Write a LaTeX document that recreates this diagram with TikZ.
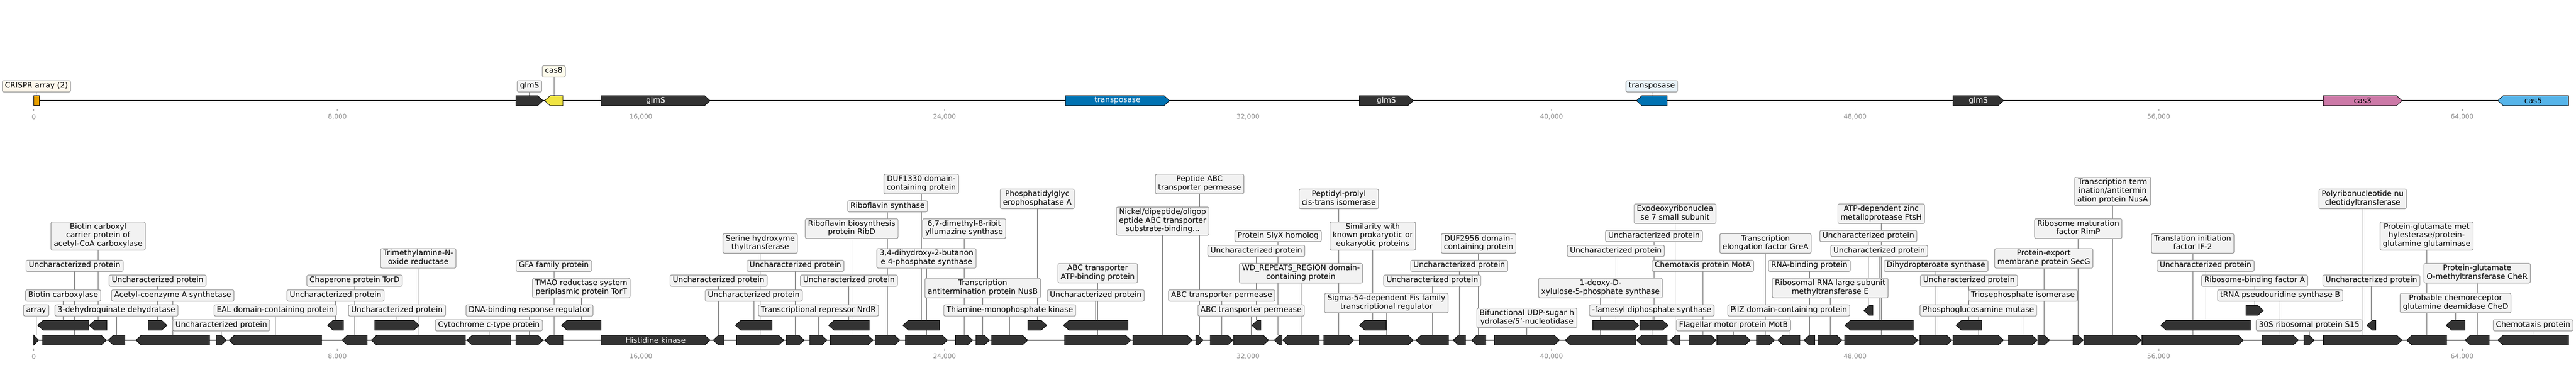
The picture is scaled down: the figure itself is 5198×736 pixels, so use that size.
\documentclass[tikz,border=0pt]{standalone}
\usepackage{fontspec}
\setmainfont{DejaVu Sans}
\usetikzlibrary{backgrounds}

\definecolor{genegray}{HTML}{333333}
\definecolor{boxgray}{HTML}{F2F2F2}
\definecolor{crisprorange}{HTML}{E69F00}
\definecolor{casyellow}{HTML}{F0E442}
\definecolor{tnpblue}{HTML}{0072B2}
\definecolor{caspink}{HTML}{CC79A7}
\definecolor{casblue}{HTML}{56B4E9}
\definecolor{ticktext}{HTML}{8A8A8A}

% start, end, y centre, direction (1 / -1), fill
\newcommand{\drawgene}[5]{%
  \pgfmathsetmacro{\gh}{min(11,#2-#1)}%
  \pgfmathsetmacro{\gtip}{#4>0 ? #2 : #1}%
  \pgfmathsetmacro{\gbase}{#4>0 ? #1 : #2}%
  \pgfmathsetmacro{\gneck}{\gtip-(#4)*\gh}%
  \draw[gene, fill=#5] (\gbase,#3-10) -- (\gneck,#3-10) -- (\gtip,#3) -- (\gneck,#3+10) -- (\gbase,#3+10) -- cycle;%
}

\begin{document}
\begin{tikzpicture}[x=1pt,y=-1pt,
  gene/.style={draw=black, line width=0.9pt, line join=miter},
  lbl/.style={draw=black!42, line width=1.2pt, fill=boxgray, rounded corners=3pt,
    align=center, inner xsep=5.5pt, inner ysep=2.7pt,
    font=\fontsize{15.3}{17.3}\selectfont,
    execute at begin node=\strut, execute at end node=\strut},
  inlbl/.style={font=\fontsize{15.3}{17.3}\selectfont, inner sep=0pt},
  conn/.style={draw=black!62, line width=0.9pt},
  axislbl/.style={font=\fontsize{13.2}{15}\selectfont, text=ticktext, inner sep=0pt}]

  \useasboundingbox (0,0) rectangle (5198,736);

  %%% backbones
  \begin{scope}[on background layer]
    \draw [line width=2pt] (68,203) -- (5183,203);
    \draw [line width=2pt] (68,686) -- (5183,686);
  \end{scope}

  %%% axis ticks
  \foreach \i/\tv in {0/0, 1/{8,000}, 2/{16,000}, 3/{24,000}, 4/{32,000}, 5/{40,000}, 6/{48,000}, 7/{56,000}, 8/{64,000}}
  {
    \pgfmathsetmacro{\tx}{68.3+612.5*\i}
    \draw [draw=ticktext, line width=0.8pt] (\tx,220) -- (\tx,225);
    \draw [draw=ticktext, line width=0.8pt] (\tx,703) -- (\tx,708);
    \node [axislbl] (ta\i) at (\tx,236) {\tv};
    \node [axislbl] (tb\i) at (\tx,719) {\tv};
  }

  %%% top track
  \draw [gene, fill=crisprorange] (68,193) rectangle (79,213);
  \drawgene{1041}{1096}{203}{1}{genegray}
  \drawgene{1099}{1136}{203}{-1}{casyellow}
  \drawgene{3302}{3364}{203}{-1}{tnpblue}

  \node [lbl, fill=crisprorange!8] (crispr) at (73.5,174) {CRISPR array (2)};
  \node [lbl] (glmsa) at (1068.5,174) {glmS};
  \node [lbl, fill=casyellow!10] (cas8) at (1117.5,144) {cas8};
  \node [lbl, fill=tnpblue!9] (tnpb) at (3333,174) {transposase};
  \coordinate (crisprtop) at (73.5,193);
  \coordinate (glmsatop) at (1068.5,193);
  \coordinate (cas8top) at (1117.5,193);
  \coordinate (tnpbtop) at (3333,193);
  \begin{scope}[on background layer]
    \draw [conn] (crispr) -- (crisprtop);
    \draw [conn] (glmsa) -- (glmsatop);
    \draw [conn] (cas8) -- (cas8top);
    \draw [conn] (tnpb) -- (tnpbtop);
  \end{scope}

  \foreach \xa/\xb/\gd/\col/\tc/\lbltxt [count=\n] in {1213/1433/1/genegray/white/glmS, 2150/2360/1/tnpblue/white/transposase,
    2743/2852/1/genegray/white/glmS, 3941/4043/1/genegray/white/glmS, 4688/4847/1/caspink/black/cas3, 5040/5183/-1/casblue/black/cas5}
  {
    \drawgene{\xa}{\xb}{203}{\gd}{\col}
    \node [inlbl, text=\tc] (tin\n) at ({(\xa+\xb)/2},203) {\lbltxt};
  }

  %%% bottom track
  \drawgene{1213}{1433}{686}{1}{genegray}
  \node [inlbl, text=white] (hisk) at (1323,686) {Histidine kinase};

  \foreach \xa/\xb/\gd/\rw/\ly/\lbltxt [count=\n] in {
    68/78/1/0/626/{array},
    86/215/1/0/536/{Uncharacterized protein},
    218/252/-1/0/626/{3-dehydroquinate dehydratase},
    274/423/-1/0/596/{Acetyl-coenzyme A synthetase},
    436/457/1/0/656/{Uncharacterized protein},
    462/649/-1/0/626/{EAL domain-containing protein},
    690/741/-1/0/566/{Chaperone protein TorD},
    749/939/-1/0/521/{Trimethylamine-N-\\oxide reductase},
    942/1031/-1/0/656/{Cytochrome c-type protein},
    1041/1096/1/0/626/{DNA-binding response regulator},
    1099/1136/-1/0/536/{GFA family protein},
    1439/1461/-1/0/566/{Uncharacterized protein},
    1486/1582/1/0/491/{Serine hydroxyme\\thyltransferase},
    1587/1623/1/0/536/{Uncharacterized protein},
    1634/1669/1/0/626/{Transcriptional repressor NrdR},
    1675/1762/1/0/461/{Riboflavin biosynthesis\\protein RibD},
    1766/1816/1/0/416/{Riboflavin synthase},
    1827/1912/1/0/521/{3,4-dihydroxy-2-butanon\\e 4-phosphate synthase},
    1928/1963/1/0/461/{6,7-dimethyl-8-ribit\\yllumazine synthase},
    1969/1997/1/0/581/{Transcription\\antitermination protein NusB},
    2001/2074/1/0/626/{Thiamine-monophosphate kinase},
    2148/2282/1/0/551/{ABC transporter\\ATP-binding protein},
    2286/2406/1/0/446/{Nickel/dipeptide/oligop\\eptide ABC transporter\\substrate-binding...},
    2413/2428/1/0/371/{Peptide ABC\\transporter permease},
    2442/2488/1/0/596/{ABC transporter permease},
    2489/2560/1/0/626/{ABC transporter permease},
    2571/2587/-1/0/476/{Protein SlyX homolog},
    2588/2662/-1/0/551/{WD\_REPEATS\_REGION domain-\\containing protein},
    2671/2732/1/0/401/{Peptidyl-prolyl\\cis-trans isomerase},
    2743/2852/1/0/611/{Sigma-54-dependent Fis family\\transcriptional regulator},
    2857/2923/-1/0/566/{Uncharacterized protein},
    2932/2957/-1/0/536/{Uncharacterized protein},
    2969/2998/-1/0/491/{DUF2956 domain-\\containing protein},
    3015/3147/1/0/641/{Bifunctional UDP-sugar h\\ydrolase/5'-nucleotidase},
    3158/3301/-1/0/581/{1-deoxy-D-\\xylulose-5-phosphate synthase},
    3302/3364/-1/0/626/{-farnesyl diphosphate synthase},
    3370/3390/-1/0/431/{Exodeoxyribonuclea\\se 7 small subunit},
    3409/3463/1/0/536/{Chemotaxis protein MotA},
    3464/3532/1/0/656/{Flagellar motor protein MotB},
    3544/3581/1/0/491/{Transcription\\elongation factor GreA},
    3587/3632/-1/0/626/{PilZ domain-containing protein},
    3640/3662/-1/0/536/{RNA-binding protein},
    3669/3717/1/0/581/{Ribosomal RNA large subunit\\methyltransferase E},
    3722/3870/1/0/431/{ATP-dependent zinc\\metalloprotease FtsH},
    3874/3939/1/0/536/{Dihydropteroate synthase},
    3941/4043/1/0/626/{Phosphoglucosamine mutase},
    4053/4111/1/0/596/{Triosephosphate isomerase},
    4112/4136/1/0/521/{Protein-export\\membrane protein SecG},
    4183/4204/1/0/461/{Ribosome maturation\\factor RimP},
    4205/4321/1/0/386/{Transcription term\\ination/antitermin\\ation protein NusA},
    4322/4527/1/0/491/{Translation initiation\\factor IF-2},
    4564/4638/1/0/596/{tRNA pseudouridine synthase B},
    4649/4670/1/0/656/{30S ribosomal protein S15},
    4688/4847/1/0/401/{Polyribonucleotide nu\\cleotidyltransferase},
    4856/4937/-1/0/476/{Protein-glutamate met\\hylesterase/protein-\\glutamine glutaminase},
    4974/5023/-1/0/551/{Protein-glutamate\\O-methyltransferase CheR},
    5040/5183/-1/0/656/{Chemotaxis protein},
    76/179/-1/1/596/{Biotin carboxylase},
    180/216/-1/1/476/{Biotin carboxyl\\carrier protein of\\acetyl-CoA carboxylase},
    299/337/1/1/566/{Uncharacterized protein},
    661/693/-1/1/596/{Uncharacterized protein},
    756/846/1/1/626/{Uncharacterized protein},
    1133/1213/-1/1/581/{TMAO reductase system\\periplasmic protein TorT},
    1484/1558/-1/1/596/{Uncharacterized protein},
    1672/1754/-1/1/566/{Uncharacterized protein},
    1822/1896/-1/1/371/{DUF1330 domain-\\containing protein},
    2074/2112/1/1/401/{Phosphatidylglyc\\erophosphatase A},
    2146/2276/-1/1/596/{Uncharacterized protein},
    2526/2544/-1/1/506/{Uncharacterized protein},
    2743/2797/-1/1/476/{Similarity with\\known prokaryotic or\\eukaryotic proteins},
    3214/3307/1/1/506/{Uncharacterized protein},
    3309/3366/1/1/476/{Uncharacterized protein},
    3723/3861/-1/1/506/{Uncharacterized protein},
    3947/3999/-1/1/566/{Uncharacterized protein},
    4360/4541/-1/1/536/{Uncharacterized protein},
    4776/4794/-1/1/566/{Uncharacterized protein},
    4936/4974/-1/1/611/{Probable chemoreceptor\\glutamine deamidase CheD},
    3761/3779/-1/2/476/{Uncharacterized protein},
    4532/4567/1/2/566/{Ribosome-binding factor A}}
  {
    \pgfmathsetmacro{\gy}{686-30*\rw}
    \pgfmathsetmacro{\gx}{(\xa+\xb)/2}
    \drawgene{\xa}{\xb}{\gy}{\gd}{genegray}
    \coordinate (top\n) at (\gx,\gy-10);
    \node [lbl] (lab\n) at (\gx,\ly) {\lbltxt};
    \begin{scope}[on background layer]
      \draw [conn] (lab\n) -- (top\n);
    \end{scope}
  }

\end{tikzpicture}
\end{document}
